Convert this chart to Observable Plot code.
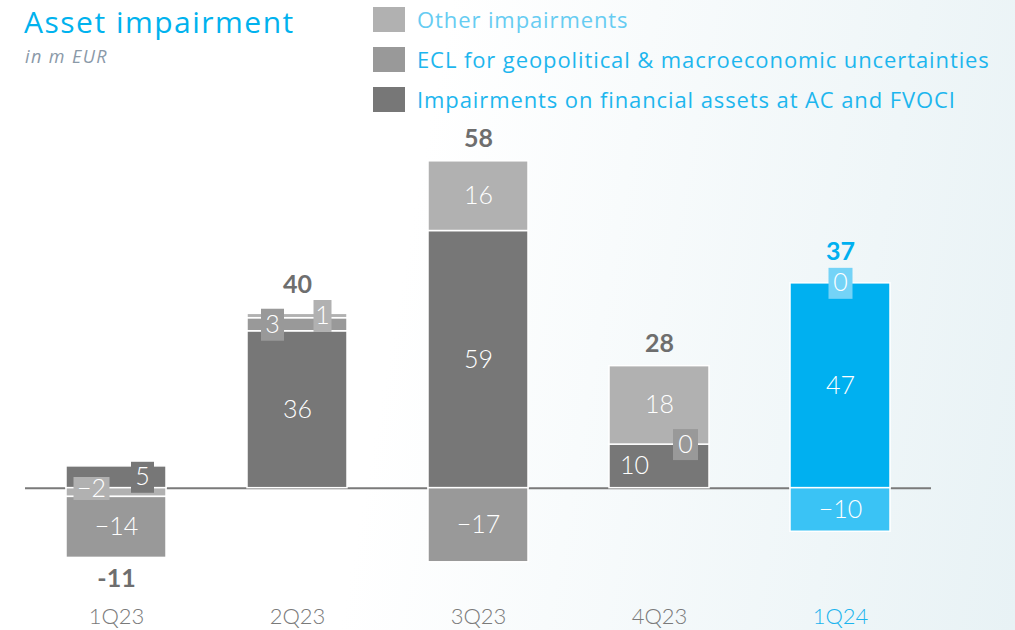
<!DOCTYPE html>
<html>
<head>
<meta charset="utf-8">
<script src="https://cdn.jsdelivr.net/npm/d3@7"></script>
<script src="https://cdn.jsdelivr.net/npm/@observablehq/plot@0.6"></script>
<style>
  html, body { margin: 0; padding: 0; }
  body { width: 1015px; height: 630px; overflow: hidden; font-family: "Open Sans", Lato, sans-serif; }
  #wrap { position: relative; width: 1015px; height: 630px;
    background: linear-gradient(100deg, #ffffff 0%, #ffffff 40%, #e8f2f5 100%); }
  #header { position: relative; width: 1015px; height: 115px; }
  #title { position: absolute; left: 24px; top: 2px; font-size: 30px; line-height: 40px; color: #00b2ee; white-space: nowrap; letter-spacing: 1.5px; }
  #subtitle { position: absolute; left: 25px; top: 45px; font-size: 18px; line-height: 22px; font-style: italic; color: #8a99a8; letter-spacing: 1.4px; }
  #legend { position: absolute; left: 373px; top: -1px; }
  .li { display: flex; align-items: center; height: 40px; }
  .sw { width: 32px; height: 25px; margin-right: 12px; flex: none; }
  .lt { font-size: 22px; white-space: nowrap; letter-spacing: 0.9px; }
  #chart svg { display: block; }
</style>
</head>
<body>
<div id="wrap">
  <div id="header">
    <div id="title">Asset impairment</div>
    <div id="subtitle">in m EUR</div>
    <div id="legend"></div>
  </div>
  <div id="chart"></div>
</div>
<script>
// ---- data ----
const quarters = ["1Q23", "2Q23", "3Q23", "4Q23", "1Q24"];
const seriesKeys = ["AC", "ECL", "Other"];
const seriesNames = [
  "Impairments on financial assets at AC and FVOCI",
  "ECL for geopolitical & macroeconomic uncertainties",
  "Other impairments"
];
const acImpairments    = [5, 36, 59, 10, 47];
const eclUncertainties = [-14, 3, -17, 0, -10];
const otherImpairments = [-2, 1, 16, 18, 0];
const totals           = [-11, 40, 58, 28, 37];
const highlightQuarter = "1Q24";

// ---- styles ----
const grayColors = ["#777777", "#999999", "#b1b1b1"];
const blueColors = ["#00b0f0", "#3ac3f5", "#74d3f7"];
const legendTextColors = ["#1db6ee", "#1db6ee", "#66ccf2"];

// label layout (small segments get a boxed label)
const boxedLabels = [
  {q: "1Q23", s: "AC",    dx: 26,  dy: 0,  w: 23, h: 31},
  {q: "1Q23", s: "Other", dx: -25, dy: -4, w: 36, h: 23},
  {q: "2Q23", s: "ECL",   dx: -25, dy: 0,  w: 23, h: 32},
  {q: "2Q23", s: "Other", dx: 25,  dy: 0,  w: 18, h: 32},
  {q: "4Q23", s: "ECL",   dx: 26,  dy: 0,  w: 25, h: 31},
  {q: "1Q24", s: "Other", dx: 0,   dy: 0,  w: 24, h: 31}
];
const shiftedLabels = [{q: "4Q23", s: "AC", dx: -25}];
const totalDy = {"1Q23": 21, "2Q23": -29, "3Q23": -22, "4Q23": -22, "1Q24": -31};

// ---- build tables ----
const valuesBySeries = [acImpairments, eclUncertainties, otherImpairments];
const rows = quarters.flatMap((q, i) => seriesKeys.map((s, k) => ({
  q, s, v: valuesBySeries[k][i],
  fill: (q === highlightQuarter ? blueColors : grayColors)[k]
})));
const pos = rows.filter(d => d.v >= 0);                 // AC, ECL, Other upward
const neg = rows.filter(d => d.v < 0).reverse();        // Other, ECL, AC downward

const posSum = quarters.map(q => d3.sum(pos.filter(d => d.q === q), d => d.v));
const negSum = quarters.map(q => d3.sum(neg.filter(d => d.q === q), d => d.v));
const totalRows = quarters.map((q, i) => ({
  q, total: totals[i], anchor: totals[i] >= 0 ? posSum[i] : negSum[i],
  fill: q === highlightQuarter ? "#00b0f0" : "#6e6e6e"
}));

const fmtSeg = v => v < 0 ? "\u2212" + Math.abs(v) : String(v);
const fmtTot = v => v < 0 ? "-" + Math.abs(v) : String(v);
const isBoxed = d => boxedLabels.some(b => b.q === d.q && b.s === d.s);
const shiftOf = d => shiftedLabels.find(b => b.q === d.q && b.s === d.s);
const stackOpts = extra => Plot.stackY({x: "q", y: "v", z: "s", ...extra});
const boxSymbol = (w, h) => ({draw(ctx) { ctx.rect(-w / 2, -h / 2, w, h); }});

const labelFont = {fontSize: 25, fontWeight: 300, fill: "white"};
const marks = [Plot.ruleY([0], {stroke: "#7a7a7a", strokeWidth: 2})];

for (const data of [pos, neg]) {
  marks.push(Plot.rectY(data, stackOpts({fill: "fill", stroke: "white", strokeWidth: 1.5})));
}
for (const data of [pos, neg]) {
  marks.push(Plot.text(data, Plot.filter(d => !isBoxed(d) && !shiftOf(d),
    stackOpts({text: d => fmtSeg(d.v), ...labelFont}))));
  for (const sh of shiftedLabels) {
    marks.push(Plot.text(data, Plot.filter(d => d.q === sh.q && d.s === sh.s,
      stackOpts({text: d => fmtSeg(d.v), dx: sh.dx, ...labelFont}))));
  }
}
for (const b of boxedLabels) {
  const row = rows.find(d => d.q === b.q && d.s === b.s);
  const data = row.v >= 0 ? pos : neg;
  const sel = d => d.q === b.q && d.s === b.s;
  marks.push(Plot.dot(data, Plot.filter(sel, stackOpts({
    fill: "fill", stroke: "none", symbol: boxSymbol(b.w, b.h), r: 5, dx: b.dx, dy: b.dy
  }))));
  marks.push(Plot.text(data, Plot.filter(sel, stackOpts({
    text: d => fmtSeg(d.v), dx: b.dx, dy: b.dy, ...labelFont
  }))));
}
for (const t of totalRows) {
  marks.push(Plot.text([t], {x: "q", y: "anchor", text: d => fmtTot(d.total), fill: "fill",
    dy: totalDy[t.q], fontSize: 25, fontWeight: "bold"}));
}
marks.push(Plot.text(quarters, {
  x: d => d, frameAnchor: "bottom", lineAnchor: "top", dy: 7,
  fill: d => d === highlightQuarter ? "#1ab4ee" : "#7a7a7a", fontSize: 22, fontWeight: 300
}));

const chart = Plot.plot({
  width: 1015, height: 515,
  marginTop: 24, marginBottom: 29, marginLeft: 25, marginRight: 84,
  x: {domain: quarters, paddingInner: 0.45, paddingOuter: 0.22, axis: null},
  y: {domain: [-26, 80], axis: null},
  color: {type: "identity"},
  style: {background: "transparent", fontFamily: "Lato, 'Open Sans', sans-serif", overflow: "visible"},
  marks
});
document.getElementById("chart").appendChild(chart);

// ---- legend ----
const legend = document.getElementById("legend");
[2, 1, 0].forEach((k, j) => {
  const li = document.createElement("div");
  li.className = "li";
  const sw = document.createElement("div");
  sw.className = "sw"; sw.style.background = grayColors[k];
  const lt = document.createElement("div");
  lt.className = "lt"; lt.textContent = seriesNames[k]; lt.style.color = legendTextColors[k];
  li.appendChild(sw); li.appendChild(lt);
  legend.appendChild(li);
});
</script>
</body>
</html>
